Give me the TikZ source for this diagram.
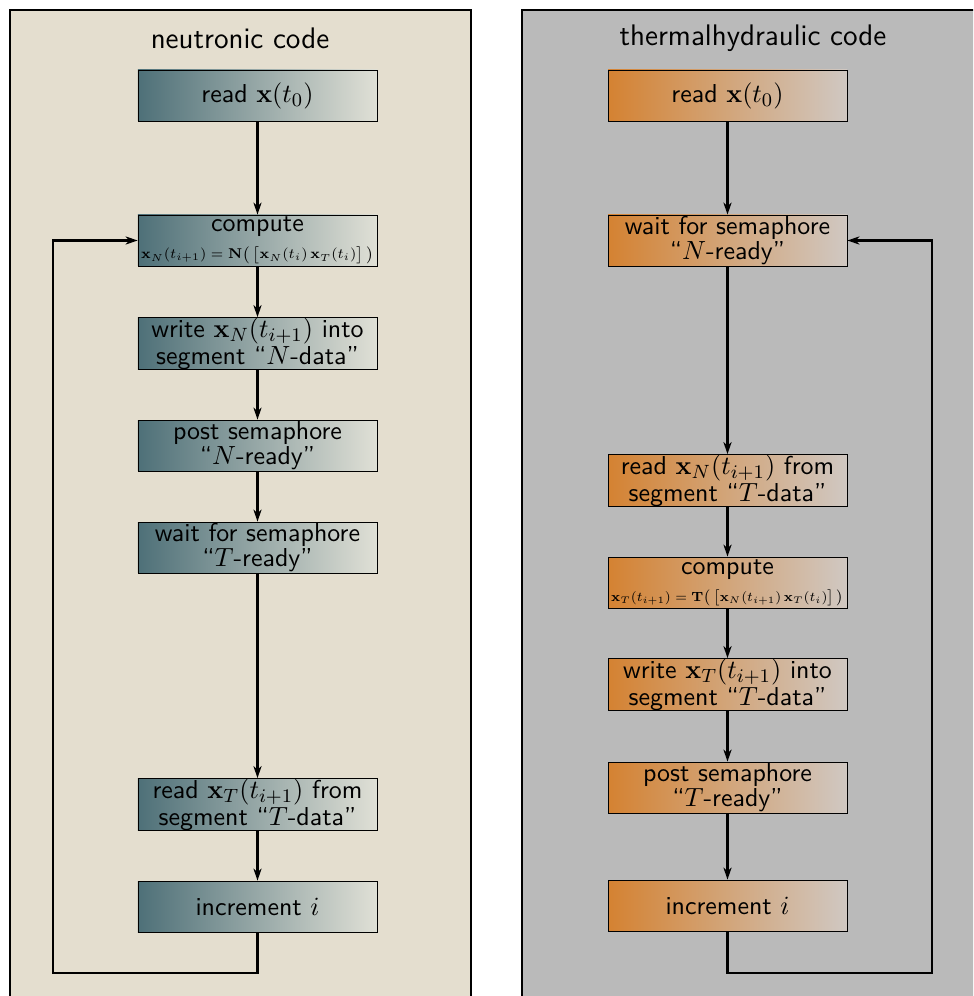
\documentclass[tikz,border=0pt]{standalone}
\usepackage{amsmath}
\usepackage{graphicx}
\usetikzlibrary{arrows.meta}
\definecolor{panelL}{RGB}{228,222,207}
\definecolor{panelR}{RGB}{186,186,186}
\definecolor{tealL}{RGB}{78,112,120}
\definecolor{tealR}{RGB}{224,224,214}
\definecolor{orL}{RGB}{212,130,50}
\definecolor{orR}{RGB}{208,200,194}
\newcommand{\frm}[1]{\resizebox{97pt}{!}{\scriptsize$#1$}}
\begin{document}
\begin{tikzpicture}[x=0.4167pt,y=-0.4167pt,
  panel/.style={draw=black,line width=0.8pt},
  box/.style={draw=black, line width=0.35pt, minimum width=99.6pt, minimum height=21.25pt, inner sep=0pt, align=center, font=\sffamily\fontsize{10.8}{9.3}\selectfont},
  nbox/.style={box, left color=tealL, right color=tealR},
  tbox/.style={box, left color=orL, right color=orR},
  flow/.style={-{Stealth[length=5pt,width=3.4pt,inset=1.5pt]}, line width=0.85pt},
  ttl/.style={font=\sffamily\fontsize{12.4}{14}\selectfont}]
\useasboundingbox (0,0) rectangle (973,996);
\clip (0,0) rectangle (973,996);
\draw[panel, fill=panelL] (10,10) rectangle (471,1010);
\draw[panel, fill=panelR] (522,10) rectangle (983,1010);
\node[ttl] (tl) at (240,38) {neutronic code};
\node[ttl] (tr) at (753,38) {thermalhydraulic code};
% left column
\node[nbox] (n1) at (257.5,95.5) {read $\mathbf{x}(t_0)$};
\node[nbox] (n2) at (257.5,240.5) {compute\\[2pt] \frm{\mathbf{x}_N(t_{i+1})=\mathbf{N}\big(\,\big[\mathbf{x}_N(t_i)\,\mathbf{x}_T(t_i)\big]\,\big)}};
\node[nbox] (n3) at (257.5,343.5) {write $\mathbf{x}_N(t_{i+1})$ into\\segment ``$N$-data''};
\node[nbox] (n4) at (257.5,445.5) {post semaphore\\``$N$-ready''};
\node[nbox] (n5) at (257.5,547.5) {wait for semaphore\\``$T$-ready''};
\node[nbox] (n6) at (257.5,804.5) {read $\mathbf{x}_T(t_{i+1})$ from\\segment ``$T$-data''};
\node[nbox] (n7) at (257.5,906.5) {increment $i$};
% right column
\node[tbox] (t1) at (727.5,95.5) {read $\mathbf{x}(t_0)$};
\node[tbox] (t2) at (727.5,240.5) {wait for semaphore\\``$N$-ready''};
\node[tbox] (t3) at (727.5,480.5) {read $\mathbf{x}_N(t_{i+1})$ from\\segment ``$T$-data''};
\node[tbox] (t4) at (727.5,582.5) {compute\\[2pt] \frm{\mathbf{x}_T(t_{i+1})=\mathbf{T}\big(\,\big[\mathbf{x}_N(t_{i+1})\,\mathbf{x}_T(t_i)\big]\,\big)}};
\node[tbox] (t5) at (727.5,684.5) {write $\mathbf{x}_T(t_{i+1})$ into\\segment ``$T$-data''};
\node[tbox] (t6) at (727.5,787.5) {post semaphore\\``$T$-ready''};
\node[tbox] (t7) at (727.5,905.5) {increment $i$};
\coordinate (lc1) at (53,973);
\coordinate (rc1) at (932,973);
\foreach \a/\b in {n1/n2,n2/n3,n3/n4,n4/n5,n5/n6,n6/n7,t1/t2,t2/t3,t3/t4,t4/t5,t5/t6,t6/t7}
  \draw[flow] (\a) -- (\b);
\draw[flow] (n7.south) |- (lc1) |- (n2.west);
\draw[flow] (t7.south) |- (rc1) |- (t2.east);
\end{tikzpicture}
\end{document}
